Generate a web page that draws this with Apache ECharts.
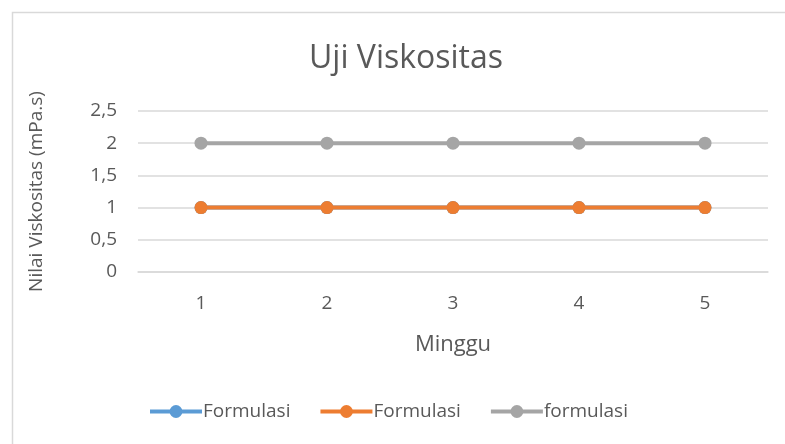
<!DOCTYPE html>
<html><head><meta charset="utf-8">
<script src="https://cdn.jsdelivr.net/npm/echarts@6/dist/echarts.min.js"></script>
<style>html,body{margin:0;padding:0;background:#fff}#c{width:785px;height:444px}</style>
</head><body><div id="c"></div>
<script>
var categories = ['1','2','3','4','5'];
var seriesKeys = ['s1','s2','s3'];
var seriesLabels = ['Formulasi','Formulasi','formulasi'];
var valuesBlue = [1,1,1,1,1];
var valuesOrange = [1,1,1,1,1];
var valuesGray = [2,2,2,2,2];
var colors = ['#5B9BD5','#ED7D31','#A5A5A5'];
var font = '"Open Sans", sans-serif';
var chart = echarts.init(document.getElementById('c'));
function mk(name, data, color, z){
  return {name:name, type:'line', data:data, color:color, symbol:'circle', symbolSize:13,
    lineStyle:{width:4, color:color}, itemStyle:{color:color}, z:z, animation:false};
}
chart.setOption({
  animation:false,
  textStyle:{fontFamily:font},
  graphic:[{type:'rect', shape:{x:12.5,y:12.5,width:900,height:600}, style:{fill:null, stroke:'#D9D9D9', lineWidth:1.5}, silent:true, z:-1}],
  title:{text:'Uji Viskositas', left:304, top:38, textStyle:{fontFamily:font, fontSize:32, fontWeight:'normal', color:'#595959'}},
  grid:{left:138, right:17, top:111, bottom:172, containLabel:false},
  xAxis:{type:'category', data:categories, boundaryGap:true,
    name:'Minggu', nameLocation:'middle', nameGap:62, nameTextStyle:{fontSize:22, color:'#595959', fontFamily:font},
    axisLine:{show:true, lineStyle:{color:'#D9D9D9', width:1.5}}, axisTick:{show:false},
    axisLabel:{fontSize:19, color:'#595959', margin:22, fontFamily:font}},
  yAxis:{type:'value', min:0, max:2.5, interval:0.5,
    name:'Nilai Viskositas (mPa.s)', nameLocation:'middle', nameGap:92, nameTextStyle:{fontSize:19, color:'#595959', fontFamily:font},
    axisLine:{show:false}, axisTick:{show:false},
    splitLine:{lineStyle:{color:'#D9D9D9', width:1.5}},
    axisLabel:{fontSize:19, color:'#595959', margin:21, fontFamily:font, formatter:function(v){return String(v).replace('.',',');}}},
  legend:{bottom:18, left:143, itemWidth:52, itemHeight:16, itemGap:28,
    lineStyle:{width:4},
    textStyle:{fontSize:19, color:'#595959', fontFamily:font, padding:[0,0,0,-4]},
    formatter:function(n){return seriesLabels[seriesKeys.indexOf(n)];},
    data:seriesKeys},
  series:[mk(seriesKeys[0], valuesBlue, colors[0], 2), mk(seriesKeys[1], valuesOrange, colors[1], 3), mk(seriesKeys[2], valuesGray, colors[2], 4)]
});
</script></body></html>
